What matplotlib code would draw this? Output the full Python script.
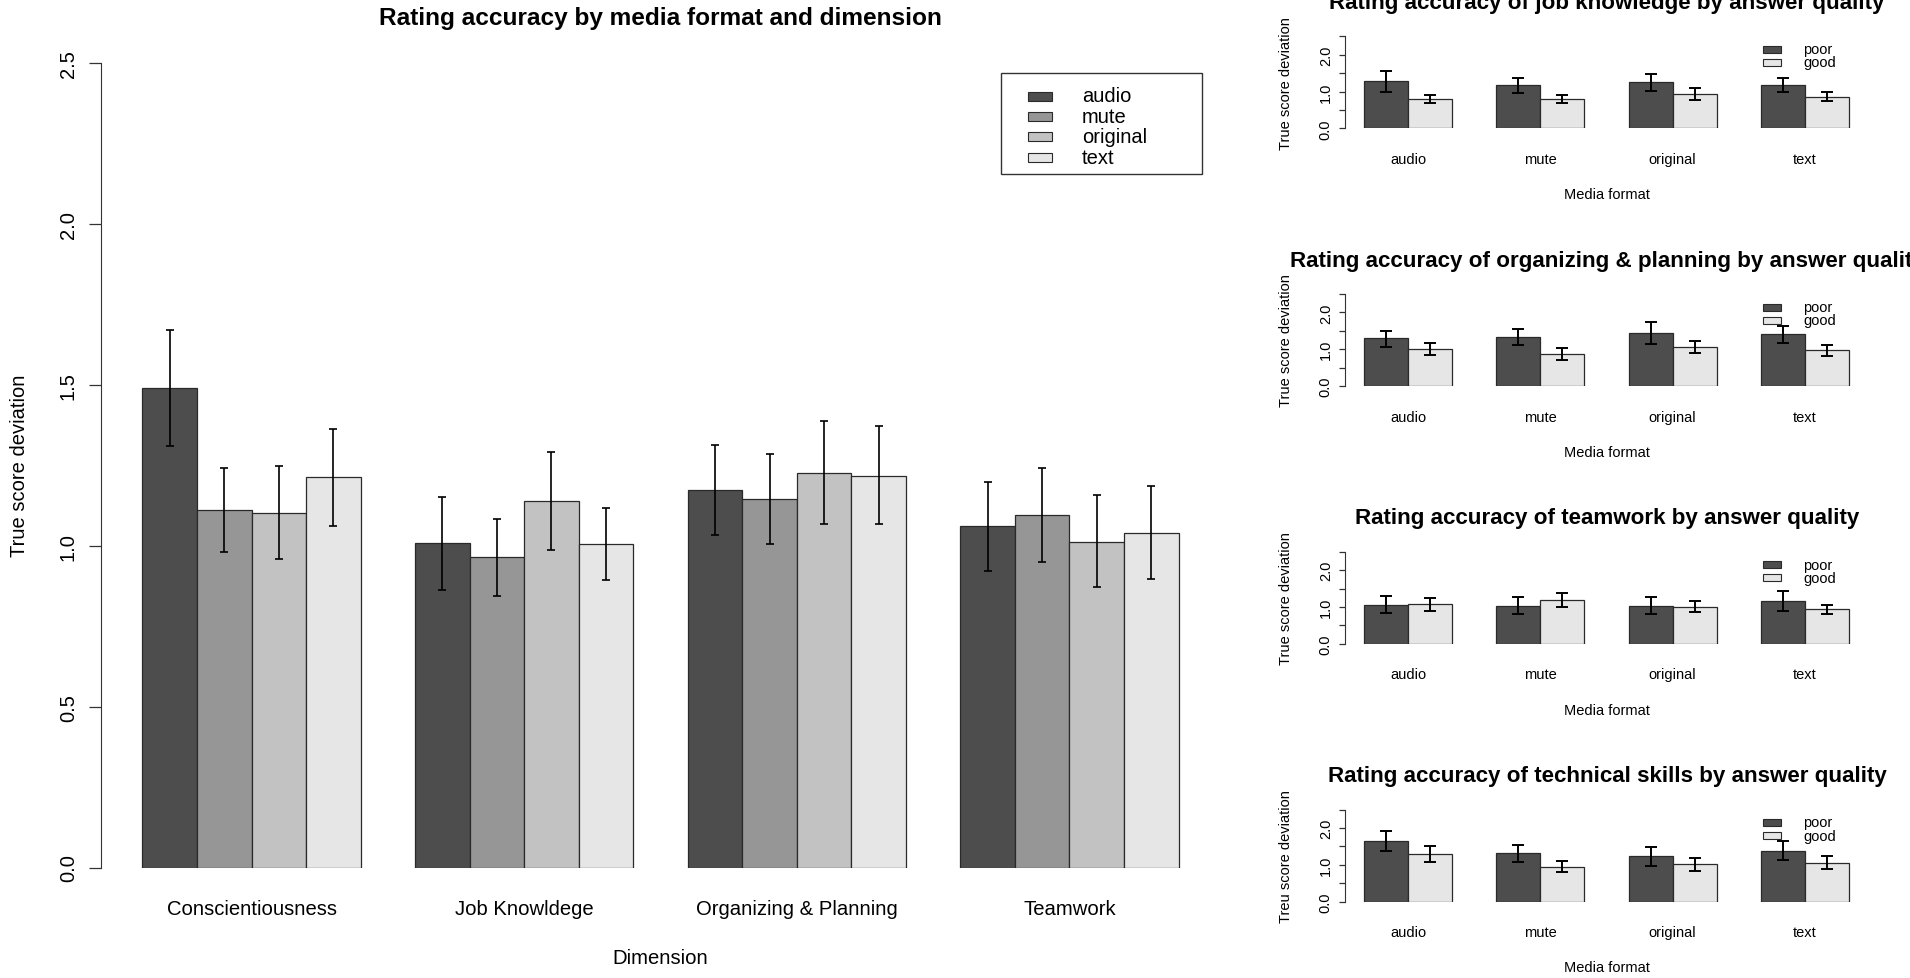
import numpy as np
import matplotlib
matplotlib.use("Agg")
import matplotlib.pyplot as plt
from matplotlib.patches import Rectangle

plt.rcParams['font.family'] = ['Liberation Sans', 'DejaVu Sans']

# main chart: rating accuracy by media format and dimension
dimensions = ['Conscientiousness', 'Job Knowldege', 'Organizing & Planning', 'Teamwork']
formats = ['audio', 'mute', 'original', 'text']
# rows = dimension, cols = format
main_mean = np.array([[1.491, 1.110, 1.102, 1.213],
                      [1.007, 0.964, 1.139, 1.006],
                      [1.172, 1.144, 1.227, 1.218],
                      [1.060, 1.096, 1.013, 1.041]])
main_lo = np.array([[1.311, 0.980, 0.958, 1.060],
                    [0.862, 0.844, 0.986, 0.894],
                    [1.032, 1.004, 1.068, 1.067],
                    [0.921, 0.950, 0.872, 0.897]])
main_hi = np.array([[1.670, 1.241, 1.247, 1.363],
                    [1.151, 1.084, 1.292, 1.118],
                    [1.313, 1.286, 1.386, 1.371],
                    [1.199, 1.242, 1.158, 1.186]])

# small panels: per dimension, poor vs good answer quality, by format
quality = ['poor', 'good']
panel_titles = ['Rating accuracy of job knowledge by answer quality',
                'Rating accuracy of organizing & planning by answer quality',
                'Rating accuracy of teamwork by answer quality',
                'Rating accuracy of technical skills by answer quality']
panel_ylabels = ['True score deviation', 'True score deviation',
                 'True score deviation', 'Treu score deviation']
# [panel][format]
poor_mean = [[1.282, 1.164, 1.264, 1.182],
             [1.291, 1.336, 1.436, 1.400],
             [1.064, 1.036, 1.036, 1.164],
             [1.656, 1.312, 1.231, 1.385]]
poor_lo = [[0.982, 0.955, 1.018, 0.982],
           [1.064, 1.109, 1.136, 1.155],
           [0.827, 0.809, 0.809, 0.900],
           [1.385, 1.086, 0.968, 1.131]]
poor_hi = [[1.555, 1.373, 1.482, 1.364],
           [1.500, 1.545, 1.727, 1.636],
           [1.300, 1.264, 1.264, 1.427],
           [1.919, 1.529, 1.484, 1.638]]
good_mean = [[0.800, 0.800, 0.936, 0.864],
             [1.018, 0.873, 1.064, 0.973],
             [1.073, 1.191, 1.009, 0.936],
             [1.303, 0.950, 1.023, 1.050]]
good_lo = [[0.682, 0.682, 0.782, 0.736],
           [0.855, 0.718, 0.900, 0.827],
           [0.900, 1.009, 0.855, 0.800],
           [1.068, 0.805, 0.842, 0.878]]
good_hi = [[0.918, 0.909, 1.091, 0.982],
           [1.164, 1.036, 1.227, 1.127],
           [1.255, 1.373, 1.164, 1.064],
           [1.520, 1.095, 1.195, 1.231]]

grays4 = ['#4D4D4D', '#969696', '#C2C2C2', '#E6E6E6']
grays2 = ['#4D4D4D', '#E6E6E6']

W, H = 1910, 979
fig = plt.figure(figsize=(W / 100, H / 100), dpi=100)


def ax_at(left, top, right, bottom):
    return fig.add_axes([left / W, 1 - bottom / H, (right - left) / W, (bottom - top) / H])


def fx(x):
    return x / W


def fy(y):
    return 1 - y / H


def r_style(ax, ticklen, labelsize, pad):
    for s in ['top', 'right', 'bottom']:
        ax.spines[s].set_visible(False)
    ax.spines['left'].set_bounds(0, 2.5)
    ax.spines['left'].set_color('#333333')
    ax.tick_params(axis='y', length=ticklen, width=0.9, color='#333333',
                   labelsize=labelsize, pad=pad, labelrotation=90)
    for lbl in ax.get_yticklabels():
        lbl.set_va('center')


# ---- main chart ----
ax = ax_at(101, 64, 1220, 868.5)
for s, fmt in enumerate(formats):
    xs = np.array([1 + g * 5 + s + 0.5 for g in range(len(dimensions))])
    m = main_mean[:, s]
    ax.bar(xs, m, width=1, color=grays4[s], edgecolor='#2a2a2a', linewidth=0.9)
    ax.errorbar(xs, m, yerr=[m - main_lo[:, s], main_hi[:, s] - m], fmt='none',
                ecolor='black', elinewidth=1.2, capsize=3, capthick=1.2, clip_on=False)
ax.set_xlim(0.24, 20.76)
ax.set_ylim(0, 2.5)
ax.set_yticks([0, 0.5, 1.0, 1.5, 2.0, 2.5])
ax.set_yticklabels(['0.0', '0.5', '1.0', '1.5', '2.0', '2.5'])
r_style(ax, 8.6, 14.5, 8)
ax.set_xticks([1 + g * 5 + 2 for g in range(len(dimensions))])
ax.set_xticklabels(dimensions, fontsize=14.6)
ax.tick_params(axis='x', length=0, pad=22.5)
ax.set_xlabel('Dimension', fontsize=14.6, va='center')
ax.xaxis.set_label_coords(0.5, (868.5 - 958.5) / 804.5)
ax.set_ylabel('True score deviation', fontsize=14.5, va='center')
ax.yaxis.set_label_coords((19.5 - 101) / 1119, 0.5)
fig.text(fx(660), fy(18), 'Rating accuracy by media format and dimension',
         fontsize=17.6, fontweight='bold', ha='center', va='center')

# main legend
fig.patches.append(Rectangle((fx(1001), fy(175)), fx(201), 101 / H, transform=fig.transFigure,
                             facecolor='none', edgecolor='#333333', linewidth=1))
for i, fmt in enumerate(formats):
    yc = 97 + i * 20.4
    fig.patches.append(Rectangle((fx(1028), fy(yc + 4.5)), fx(24), 9 / H, transform=fig.transFigure,
                                 facecolor=grays4[i], edgecolor='#2a2a2a', linewidth=0.8))
    fig.text(fx(1082), fy(yc), fmt, fontsize=14.5, ha='left', va='center')

# ---- small panels ----
zeros = [129.3, 387.0, 644.7, 902.5]
for p in range(4):
    z = zeros[p]
    pax = ax_at(1345, z - 92, 1868, z)
    for s in range(2):
        xs = np.array([1 + g * 3 + s + 0.5 for g in range(len(formats))])
        if s == 0:
            m, lo, hi = np.array(poor_mean[p]), np.array(poor_lo[p]), np.array(poor_hi[p])
        else:
            m, lo, hi = np.array(good_mean[p]), np.array(good_lo[p]), np.array(good_hi[p])
        pax.bar(xs, m, width=1, color=grays2[s], edgecolor='#2a2a2a', linewidth=0.9)
        pax.errorbar(xs, m, yerr=[m - lo, hi - m], fmt='none', ecolor='black',
                     elinewidth=1.4, capsize=4.2, capthick=1.4, clip_on=False)
    pax.set_xlim(0.56, 12.44)
    pax.set_ylim(0, 2.5)
    pax.set_yticks([0, 0.5, 1.0, 1.5, 2.0, 2.5])
    pax.set_yticklabels(['0.0', '', '1.0', '', '2.0', ''])
    r_style(pax, 4.3, 10.5, 4.5)
    pax.set_xticks([1 + g * 3 + 1 for g in range(len(formats))])
    pax.set_xticklabels(formats, fontsize=10.5)
    pax.tick_params(axis='x', length=0, pad=17)
    pax.set_xlabel('Media format', fontsize=10.5, va='center')
    pax.xaxis.set_label_coords(0.5, -66 / 92)
    pax.set_ylabel(panel_ylabels[p], fontsize=10.5, va='center')
    pax.yaxis.set_label_coords((1286 - 1345) / 523, 0.5)
    fig.text(fx(1607), fy(z - 126), panel_titles[p], fontsize=16.1,
             fontweight='bold', ha='center', va='center')
    for i, q in enumerate(quality):
        yc = z - 79 + i * 13
        fig.patches.append(Rectangle((fx(1763), fy(yc + 3.5)), fx(18), 7 / H,
                                     transform=fig.transFigure, facecolor=grays2[i],
                                     edgecolor='#2a2a2a', linewidth=0.8))
        fig.text(fx(1803), fy(yc), q, fontsize=10.5, ha='left', va='center')

fig.savefig('out.png', dpi=100, facecolor='white')
